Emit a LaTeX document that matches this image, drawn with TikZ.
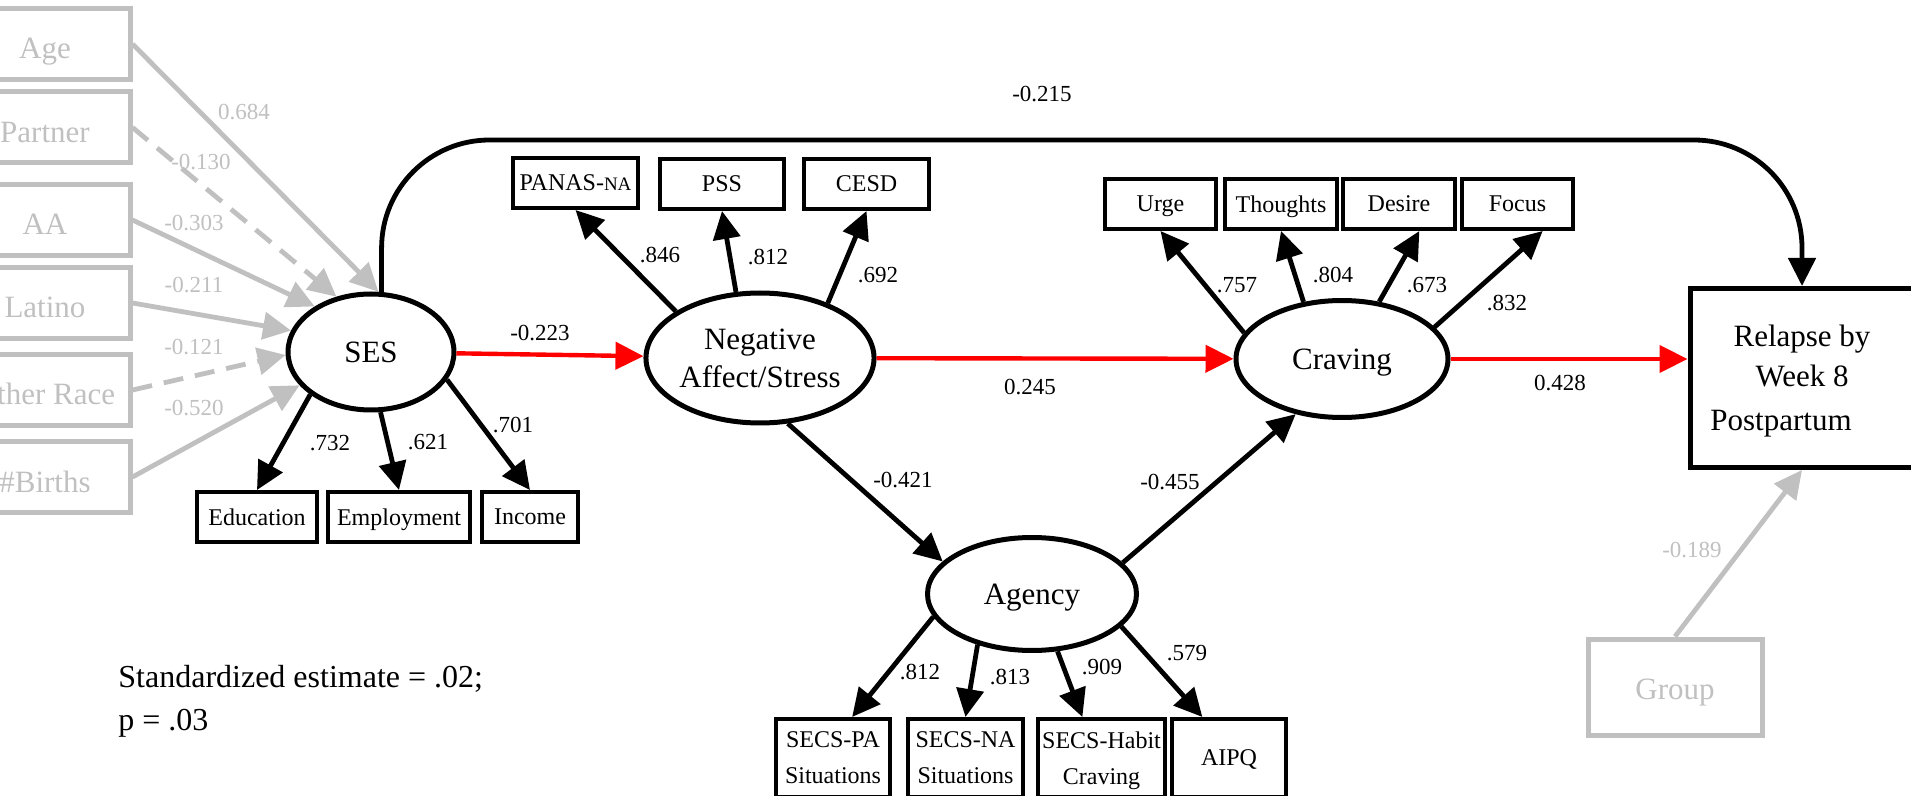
\documentclass[tikz,border=0pt]{standalone}
\usepackage{fontspec}
\setmainfont{Liberation Serif}
\usetikzlibrary{positioning,arrows.meta,shapes.geometric}
\definecolor{covgray}{RGB}{192,192,192}
\definecolor{pathred}{RGB}{255,0,0}

\begin{document}
\begin{tikzpicture}[
  x=0.5pt, y=-0.5pt,
  latent/.style={draw, ellipse, line width=2.5pt, inner sep=0pt, text depth=0pt, align=center, font=\fontsize{15.5}{19}\selectfont},
  ind/.style={draw, line width=2pt, inner sep=0pt, text depth=0pt, minimum height=25pt, align=center, font=\fontsize{12}{18}\selectfont},
  covbox/.style={draw=covgray, text=covgray, line width=2.5pt, inner sep=0pt, text height=15pt, text depth=0pt, minimum width=85pt, minimum height=35.5pt, font=\fontsize{15.5}{18.5}\selectfont},
  coef/.style={inner sep=0pt, font=\fontsize{11.5}{14}\selectfont},
  graycoef/.style={coef, text=covgray},
  arrow/.style={-{Triangle[length=14pt, width=13.5pt]}, line width=2.4pt},
  redarrow/.style={arrow, draw=pathred, line width=2.2pt},
  grayarrow/.style={arrow, draw=covgray}
]
\clip (0,0) rectangle (1911,796);

% latent variables
\node[latent, minimum width=83pt, minimum height=58pt] (ses) at (371,352) {SES};
\node[latent, minimum width=105pt, minimum height=65pt] (negaff) at (760,358) {Negative\\Affect/Stress};
\node[latent, minimum width=106pt, minimum height=58.5pt] (craving) at (1342,359) {Craving};
\node[latent, minimum width=104.5pt, minimum height=56.5pt] (agency) at (1032,594) {Agency};

% outcome
\node[draw, line width=2.5pt, inner sep=0pt, text depth=0pt, minimum width=112pt, minimum height=89.5pt, align=center,
  font=\fontsize{15.5}{20}\selectfont] (relapse) at (1802,378) {Relapse by\\Week 8\\[2pt]Postpartum\hspace*{21pt}};

% covariates
\node[covbox] (age) at (45,44) {Age};
\node[covbox] (partner) at (45,127.5) {Partner};
\node[covbox] (aa) at (45,220) {AA};
\node[covbox] (latino) at (45,303) {Latino};
\node[covbox] (otherrace) at (45,390) {Other Race};
\node[covbox] (births) at (45,477) {\#Births};
\node[covbox, text height=12pt, minimum width=87pt, minimum height=48pt] (group) at (1675,687) {Group};

% indicators
\node[ind, minimum width=60pt] (education) at (257,517) {Education};
\node[ind, minimum width=71pt] (employment) at (399,517) {Employment};
\node[ind, minimum width=48pt] (income) at (530,517) {Income};

\node[ind, minimum width=62.5pt] (panas) at (575.5,183) {PANAS-{\fontsize{9.5}{12}\selectfont NA}};
\node[ind, minimum width=62pt] (pss) at (722,184) {PSS};
\node[ind, minimum width=62.5pt] (cesd) at (866.5,184) {CESD};

\node[ind, minimum width=55.5pt] (urge) at (1160.5,204) {Urge};
\node[ind, minimum width=56pt] (thoughts) at (1281,204) {Thoughts};
\node[ind, minimum width=56pt] (desire) at (1399,204) {Desire};
\node[ind, minimum width=55.5pt] (focus) at (1517.5,204) {Focus};

\node[ind, minimum width=57pt, minimum height=39pt] (secspa) at (833,758) {SECS-PA\\Situations};
\node[ind, minimum width=57.5pt, minimum height=39pt] (secsna) at (965.5,758) {SECS-NA\\Situations};
\node[ind, minimum width=63.5pt, minimum height=39pt] (secshabit) at (1101.5,758) {SECS-Habit\\Craving};
\node[ind, minimum width=57pt, minimum height=39pt] (aipq) at (1229,758) {AIPQ};

% covariate paths
\draw[grayarrow] (age.east) -- (ses.83);
\draw[grayarrow, dash pattern=on 10pt off 6pt] (partner.east) -- (ses.122);
\draw[grayarrow] (aa.east) -- (ses.141);
\draw[grayarrow] (latino.east) -- (ses.165);
\draw[grayarrow, dash pattern=on 10pt off 6pt] (otherrace.east) -- (ses.182);
\draw[grayarrow] (births.east) -- (ses.205);
\draw[grayarrow] (group.north) -- (relapse.south);

% loadings
\draw[arrow] (ses.215) -- (education.north);
\draw[arrow] (ses.279) -- (employment.north);
\draw[arrow] (ses.340) -- (income.north);
\draw[arrow] (negaff.151) -- (panas.south);
\draw[arrow] (negaff.110) -- (pss.south);
\draw[arrow] (negaff.39) -- (cesd.south);
\draw[arrow] (craving.165) -- (urge.south);
\draw[arrow] (craving.124) -- (thoughts.south);
\draw[arrow] (craving.57) -- (desire.-53);
\draw[arrow] (craving.19) -- (focus.-47);
\draw[arrow] (agency.193) -- (secspa.65);
\draw[arrow] (agency.223) -- (secsna.north);
\draw[arrow] (agency.294) -- (secshabit.115);
\draw[arrow] (agency.340) -- (aipq.123);

% structural paths
\draw[redarrow] (ses) -- (negaff);
\draw[redarrow] (negaff) -- (craving);
\draw[redarrow] (craving.east) -- (craving.east -| relapse.west);
\draw[arrow] (negaff.293) -- (agency.160);
\draw[arrow] (agency.19) -- (craving.230);
\coordinate (toprail) at (1100,140);
\draw[arrow, rounded corners=54pt] (ses.80) |- (toprail) -| (relapse.north);

% estimates
\node[graycoef] (c-age) at (244,112) {0.684};
\node[graycoef] (c-partner) at (201,162) {-0.130};
\node[graycoef] (c-aa) at (194,223) {-0.303};
\node[graycoef] (c-latino) at (194,285) {-0.211};
\node[graycoef] (c-other) at (194,347) {-0.121};
\node[graycoef] (c-births) at (194,408) {-0.520};
\node[graycoef] (c-group) at (1692,550) {-0.189};

\node[coef] (c-edu) at (330,443) {.732};
\node[coef] (c-emp) at (428,442) {.621};
\node[coef] (c-inc) at (513,425) {.701};
\node[coef] (c-panas) at (660,255) {.846};
\node[coef] (c-pss) at (768,257) {.812};
\node[coef] (c-cesd) at (878,275) {.692};
\node[coef] (c-urge) at (1237,285) {.757};
\node[coef] (c-thoughts) at (1333,275) {.804};
\node[coef] (c-desire) at (1427,285) {.673};
\node[coef] (c-focus) at (1507,303) {.832};
\node[coef] (c-secspa) at (920,672) {.812};
\node[coef] (c-secsna) at (1010,677) {.813};
\node[coef] (c-habit) at (1102,667) {.909};
\node[coef] (c-aipq) at (1187,653) {.579};

\node[coef] (c-sesneg) at (540,333) {-0.223};
\node[coef] (c-negcrav) at (1030,387) {0.245};
\node[coef] (c-cravrel) at (1560,383) {0.428};
\node[coef] (c-negag) at (903,480) {-0.421};
\node[coef] (c-agcrav) at (1170,482) {-0.455};
\node[coef] (c-sesrel) at (1042,94) {-0.215};

\node[anchor=west, align=left, inner sep=0pt, font=\fontsize{16}{21.5}\selectfont] (note) at (118,701)
  {Standardized estimate = .02;\\p = .03};
\end{tikzpicture}
\end{document}
